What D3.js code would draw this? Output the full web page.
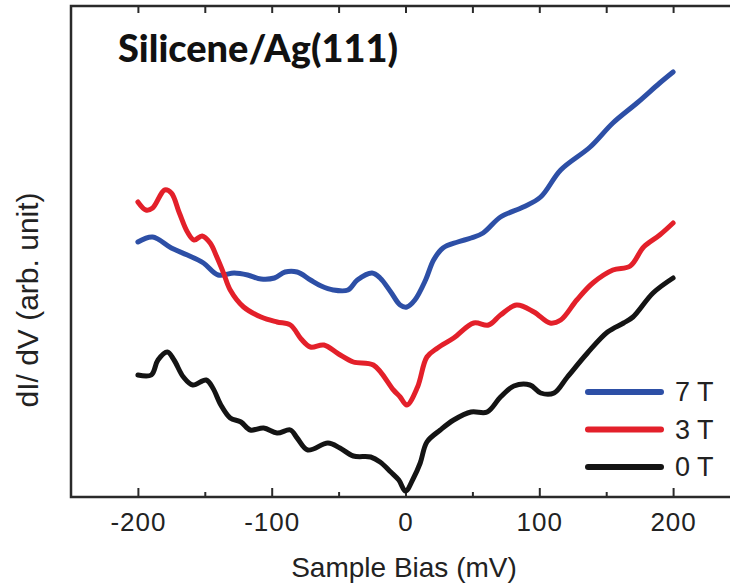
<!DOCTYPE html>
<html><head><meta charset="utf-8">
<script src="https://cdn.jsdelivr.net/npm/d3@7"></script>
<style>body{margin:0;background:#fff}svg{display:block}</style>
</head><body><svg id="c" width="730" height="587"></svg>
<script>
// Sample bias (mV) and dI/dV (arb. unit)
const bias7T = [-200,-189,-175,-163,-151,-140,-128,-118,-108,-98,-90,-81,-71,-63,-54,-43,-36,-25,-19,-11,-4,1,7,15,21,28,39,49,58,71,88,101,116,138,155,173,190,200];
const didv7T = [255,260,249,242,234,222,224,222,218,219,225,225,217,211,207,207,217,224,219,205,192,190,197,217,237,249,255,259,264,280,290,300,327,350,374,394,414,425];

const bias3T = [-200,-194,-189,-180,-175,-169,-163,-158,-152,-146,-141,-136,-131,-121,-108,-96,-86,-78,-71,-61,-50,-39,-24,-9,-4,1,9,16,24,36,51,62,71,83,96,108,116,128,140,155,168,178,190,200];
const didv3T = [295,287,289,307,304,284,265,257,261,254,240,224,207,190,180,175,172,158,150,152,143,135,132,107,100,92,110,140,149,159,174,172,182,192,185,174,177,197,214,227,231,250,262,274];

const bias0T = [-200,-190,-185,-178,-173,-166,-159,-149,-144,-138,-131,-123,-116,-106,-96,-86,-81,-73,-58,-49,-39,-26,-19,-11,-5,0,6,11,16,26,36,49,61,71,81,93,101,111,121,136,151,163,170,185,200];
const didv0T = [122,122,137,145,137,120,112,117,109,92,79,75,67,69,64,67,59,47,54,49,41,40,35,25,17,6,19,34,55,67,77,85,85,100,111,112,104,104,120,144,165,174,180,204,219];

const seriesNames = ["7 T","3 T","0 T"];
const seriesColors = ["#2d4fa6","#e3202a","#141414"];
const xTicks = [-200,-100,0,100,200];
const xMinorTicks = [-150,-50,50,150];
const xDomain = [-250,250];
const yDomain = [0,490];

const series = [
  {name:seriesNames[0], color:seriesColors[0], xs:bias7T, ys:didv7T},
  {name:seriesNames[1], color:seriesColors[1], xs:bias3T, ys:didv3T},
  {name:seriesNames[2], color:seriesColors[2], xs:bias0T, ys:didv0T}
];

const svg = d3.select("#c");
const L=71, R=740, T=6, B=497;
const x = d3.scaleLinear().domain(xDomain).range([L,R]);
const y = d3.scaleLinear().domain(yDomain).range([B,T+1]);
const axisColor="#2a2a2a";
const FONT = "'Liberation Sans', Arial, Helvetica, sans-serif";

// bottom axis
const gB = svg.append("g").attr("transform",`translate(0,${B})`)
  .call(d3.axisBottom(x).tickValues(xTicks).tickSize(-9).tickFormat(d=>String(d)));
gB.select(".domain").remove();
gB.selectAll("line").attr("stroke",axisColor).attr("stroke-width",2);
gB.selectAll("text").attr("font-family",FONT).attr("font-size",26)
  .attr("fill","#222").attr("letter-spacing","1px").attr("dy","0.71em").attr("y",16);
const gBm = svg.append("g").attr("transform",`translate(0,${B})`)
  .call(d3.axisBottom(x).tickValues(xMinorTicks).tickSize(-5).tickFormat(""));
gBm.select(".domain").remove();
gBm.selectAll("line").attr("stroke",axisColor).attr("stroke-width",2);

// top axis
const gT = svg.append("g").attr("transform",`translate(0,${T})`)
  .call(d3.axisTop(x).tickValues(xTicks.concat(xMinorTicks)).tickSize(-7).tickFormat(""));
gT.select(".domain").remove();
gT.selectAll("line").attr("stroke",axisColor).attr("stroke-width",2);

// frame
svg.append("path").attr("d",`M${R},${T}H${L}V${B}H${R}`).attr("fill","none")
  .attr("stroke",axisColor).attr("stroke-width",2.5);

// curves
const line = d3.line().x(d=>x(d[0])).y(d=>y(d[1])).curve(d3.curveCatmullRom.alpha(0.5));
series.forEach(s=>{
  svg.append("path").datum(s.xs.map((v,i)=>[v,s.ys[i]]))
    .attr("d",line).attr("fill","none").attr("stroke",s.color)
    .attr("stroke-width",5).attr("stroke-linejoin","round").attr("stroke-linecap","round");
});

// legend
const lg = svg.append("g");
series.forEach((s,i)=>{
  const yy = 392 + i*37.5;
  lg.append("line").attr("x1",588).attr("x2",661).attr("y1",yy).attr("y2",yy)
    .attr("stroke",s.color).attr("stroke-width",6).attr("stroke-linecap","round");
  lg.append("text").attr("x",675).attr("y",yy+9).text(s.name)
    .attr("font-family",FONT).attr("font-size",27).attr("fill","#222");
});

// title
svg.append("text").attr("x",118).attr("y",62).text("Silicene/Ag(111)")
  .attr("font-family","Lato, 'Open Sans', sans-serif").attr("font-weight","900")
  .attr("font-size",38).attr("fill","#111").attr("textLength",280).attr("lengthAdjust","spacingAndGlyphs");

// axis titles
svg.append("text").attr("x",404).attr("y",577).attr("text-anchor","middle").text("Sample Bias (mV)")
  .attr("font-family",FONT).attr("font-size",28).attr("fill","#222");
svg.append("text").attr("transform","translate(38,300) rotate(-90)").attr("text-anchor","middle")
  .text("dI/ dV (arb. unit)")
  .attr("font-family",FONT).attr("font-size",30).attr("fill","#222");
</script></body></html>
